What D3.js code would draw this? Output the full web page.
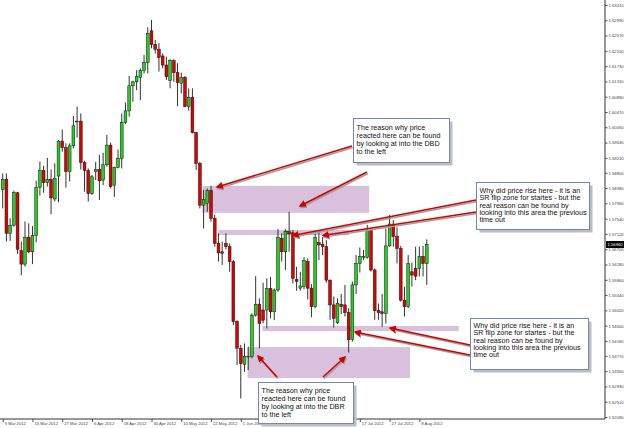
<!DOCTYPE html>
<html>
<head>
<meta charset="utf-8">
<script src="https://cdn.jsdelivr.net/npm/d3@7"></script>
<style>
body{margin:0;background:#fff}
svg{display:block}
</style>
</head>
<body>
<svg id="chart" width="625" height="428"></svg>
<script>
// daily candles, 5 Mar 2012 .. 13 Aug 2012
var open = [1.5834,1.5862,1.5714,1.5736,1.5825,1.5666,1.5629,1.5703,1.5663,1.5707,
 1.5840,1.5886,1.5853,1.5862,1.5808,1.5871,1.5967,1.5949,1.5883,1.5954,
 1.6020,1.6022,1.5908,1.5886,1.5823,1.5883,1.5889,1.5860,1.5902,1.5956,
 1.5846,1.5895,1.5920,1.6019,1.6050,1.6119,1.6130,1.6142,1.6161,1.6183,
 1.6270,1.6233,1.6219,1.6201,1.6176,1.6133,1.6188,1.6155,1.6126,1.6142,
 1.6062,1.6087,1.5990,1.5906,1.5791,1.5796,1.5831,1.5755,1.5686,1.5663,
 1.5686,1.5677,1.5636,1.5471,1.5398,1.5354,1.5375,1.5375,1.5489,1.5519,
 1.5503,1.5503,1.5562,1.5498,1.5558,1.5700,1.5663,1.5718,1.5715,1.5587,
 1.5563,1.5567,1.5636,1.5563,1.5512,1.5688,1.5684,1.5677,1.5585,1.5517,
 1.5468,1.5519,1.5517,1.5496,1.5422,1.5572,1.5631,1.5648,1.5648,1.5721,
 1.5613,1.5501,1.5498,1.5494,1.5679,1.5739,1.5705,1.5672,1.5530,1.5512,
 1.5608,1.5617,1.5617,1.5650,1.5631];
var high = [1.5878,1.5878,1.5755,1.5831,1.5828,1.5691,1.5746,1.5741,1.5734,1.5858,
 1.5911,1.5899,1.5921,1.5889,1.5906,1.5970,1.5999,1.5961,1.5961,1.6036,
 1.6062,1.6043,1.5913,1.5892,1.5874,1.5910,1.5929,1.5935,1.5984,1.5963,
 1.5897,1.5944,1.6043,1.6073,1.6146,1.6133,1.6162,1.6167,1.6204,1.6280,
 1.6300,1.6245,1.6236,1.6208,1.6199,1.6192,1.6192,1.6181,1.6155,1.6146,
 1.6112,1.6112,1.5993,1.5910,1.5833,1.5837,1.5844,1.5764,1.5714,1.5691,
 1.5714,1.5686,1.5640,1.5475,1.5407,1.5411,1.5402,1.5494,1.5596,1.5535,
 1.5578,1.5590,1.5594,1.5562,1.5725,1.5714,1.5725,1.5773,1.5723,1.5622,
 1.5608,1.5648,1.5645,1.5574,1.5712,1.5721,1.5703,1.5695,1.5587,1.5540,
 1.5535,1.5547,1.5572,1.5508,1.5581,1.5654,1.5675,1.5668,1.5737,1.5727,
 1.5617,1.5521,1.5547,1.5727,1.5764,1.5750,1.5730,1.5679,1.5567,1.5654,
 1.5633,1.5677,1.5677,1.5679,1.5697];
var low = [1.5782,1.5691,1.5693,1.5732,1.5657,1.5598,1.5622,1.5659,1.5629,1.5689,
 1.5817,1.5825,1.5842,1.5766,1.5801,1.5799,1.5938,1.5839,1.5856,1.5947,
 1.5977,1.5889,1.5828,1.5801,1.5819,1.5860,1.5805,1.5846,1.5897,1.5837,
 1.5814,1.5892,1.5892,1.6014,1.6034,1.6075,1.6107,1.6080,1.6153,1.6153,
 1.6222,1.6208,1.6158,1.6167,1.6135,1.6112,1.6130,1.6063,1.6098,1.6060,
 1.6051,1.5988,1.5888,1.5782,1.5727,1.5773,1.5746,1.5677,1.5636,1.5627,
 1.5670,1.5608,1.5462,1.5352,1.5260,1.5333,1.5338,1.5370,1.5485,1.5398,
 1.5466,1.5452,1.5480,1.5475,1.5553,1.5636,1.5613,1.5663,1.5576,1.5556,
 1.5556,1.5560,1.5532,1.5483,1.5508,1.5640,1.5654,1.5578,1.5476,1.5455,
 1.5465,1.5492,1.5485,1.5386,1.5416,1.5547,1.5606,1.5640,1.5644,1.5608,
 1.5476,1.5476,1.5457,1.5466,1.5677,1.5677,1.5631,1.5526,1.5485,1.5508,
 1.5567,1.5585,1.5595,1.5595,1.5572];
var close = [1.5862,1.5714,1.5736,1.5826,1.5670,1.5629,1.5703,1.5663,1.5707,1.5840,
 1.5886,1.5853,1.5862,1.5811,1.5865,1.5967,1.5949,1.5883,1.5954,1.6009,
 1.6022,1.5908,1.5886,1.5823,1.5869,1.5889,1.5858,1.5902,1.5956,1.5842,
 1.5895,1.5920,1.6019,1.6050,1.6119,1.6130,1.6144,1.6161,1.6183,1.6263,
 1.6233,1.6219,1.6197,1.6176,1.6144,1.6188,1.6155,1.6128,1.6142,1.6062,
 1.6087,1.5990,1.5906,1.5791,1.5807,1.5831,1.5755,1.5686,1.5660,1.5659,
 1.5677,1.5636,1.5471,1.5398,1.5356,1.5376,1.5376,1.5489,1.5519,1.5466,
 1.5475,1.5562,1.5498,1.5558,1.5703,1.5663,1.5718,1.5712,1.5590,1.5581,
 1.5569,1.5639,1.5563,1.5512,1.5702,1.5682,1.5677,1.5585,1.5517,1.5480,
 1.5521,1.5512,1.5496,1.5421,1.5572,1.5631,1.5650,1.5650,1.5721,1.5613,
 1.5501,1.5496,1.5494,1.5679,1.5739,1.5705,1.5672,1.5530,1.5512,1.5631,
 1.5599,1.5596,1.5650,1.5631,1.5683];

var dateLabels = ["5 Mar 2012","15 Mar 2012","27 Mar 2012","6 Apr 2012","18 Apr 2012",
 "30 Apr 2012","10 May 2012","22 May 2012","1 Jun 2012","13 Jun 2012","25 Jun 2012",
 "5 Jul 2012","17 Jul 2012","27 Jul 2012","8 Aug 2012"];
var dateIdx = [0,8,16,24,32,40,48,56,64,72,80,88,96,104,112];

var priceTicks = [1.63410,1.62990,1.62570,1.62150,1.61730,1.61310,1.60890,1.60470,1.60050,
 1.59630,1.59210,1.58800,1.58380,1.57960,1.57540,1.57120,1.56700,1.56280,1.55860,
 1.55440,1.55020,1.54600,1.54180,1.53770,1.53350,1.52930,1.52510,1.52090];

// supply / demand zones: candle index from..to, price top..bottom
var zoneFrom = [53.7, 58, 69.8, 65.8];
var zoneTo = [98.5, 93.1, 122.6, 109.5];
var zoneTop = [1.5844, 1.5723, 1.5459, 1.5401];
var zoneBottom = [1.5770, 1.5709, 1.5445, 1.5316];

var svg = d3.select("#chart");
var x = d3.scaleLinear().domain([0,114]).range([2.7, 2.7+114*3.72]);
var y = d3.scaleLinear().domain([1.52090,1.63410]).range([417,5]);

var axisX = 605, axisY = 419;
var axisFont = "Arial, 'Liberation Sans', sans-serif";

// zones
var zones = svg.append("g");
for(var z=0; z<zoneFrom.length; z++){
	zones.append("rect")
		.attr("x", x(zoneFrom[z]))
		.attr("y", y(zoneTop[z]))
		.attr("width", x(zoneTo[z]) - x(zoneFrom[z]))
		.attr("height", y(zoneBottom[z]) - y(zoneTop[z]))
		.attr("fill", "#d9c0dc");
}

// candles
var candles = svg.append("g");
var idx = d3.range(open.length);
candles.selectAll("line.wick").data(idx).enter().append("line")
	.attr("class","wick")
	.attr("x1", function(i){ return x(i); })
	.attr("x2", function(i){ return x(i); })
	.attr("y1", function(i){ return y(high[i]); })
	.attr("y2", function(i){ return y(low[i]); })
	.attr("stroke", "#333")
	.attr("stroke-width", 1);
candles.selectAll("rect.body").data(idx).enter().append("rect")
	.attr("class","body")
	.attr("x", function(i){ return x(i) - 1.4; })
	.attr("width", 2.8)
	.attr("y", function(i){ return y(Math.max(open[i],close[i])); })
	.attr("height", function(i){ return Math.max(0.8, Math.abs(y(open[i]) - y(close[i]))); })
	.attr("fill", function(i){ return close[i] >= open[i] ? "#1ed21e" : "#e00000"; })
	.attr("stroke", "#111")
	.attr("stroke-width", 0.5);

// axes
var yAxis = d3.axisRight(y).tickValues(priceTicks).tickSize(2.5).tickPadding(1)
	.tickFormat(d3.format(".5f"));
var gy = svg.append("g").attr("transform","translate("+axisX+",0)").call(yAxis);
gy.select(".domain").remove();
gy.selectAll("text").attr("font-size","4.2px").attr("font-family",axisFont).attr("fill","#444");
gy.selectAll("line").attr("stroke","#555");

var xAxis = d3.axisBottom(x).tickValues(dateIdx).tickSize(3)
	.tickFormat(function(d,i){ return dateLabels[i]; });
var gx = svg.append("g").attr("transform","translate(0,"+axisY+")").call(xAxis);
gx.select(".domain").remove();
gx.selectAll("text").attr("text-anchor","start").attr("x",1.5).attr("y",3.5).attr("dy","0.71em")
	.attr("font-size","4.2px").attr("font-family",axisFont).attr("fill","#444");
gx.selectAll("line").attr("stroke","#555");

svg.append("line").attr("x1",axisX).attr("x2",axisX).attr("y1",0).attr("y2",axisY).attr("stroke","#333");
svg.append("line").attr("x1",0).attr("x2",axisX).attr("y1",axisY).attr("y2",axisY).attr("stroke","#333");

// current price tag
var last = close[close.length-1];
svg.append("rect").attr("x",axisX+1).attr("y",y(last)-3.5).attr("width",18).attr("height",7).attr("fill","#000");
svg.append("text").attr("x",axisX+2.5).attr("y",y(last)+1.5).text("1.56960")
	.attr("font-size","4.2px").attr("font-family",axisFont).attr("fill","#fff");

// arrows
var defs = svg.append("defs");
defs.append("marker").attr("id","head").attr("viewBox","0 0 10 10").attr("refX",2).attr("refY",5)
	.attr("markerWidth",4.5).attr("markerHeight",4.5).attr("orient","auto")
	.append("path").attr("d","M10,0 L0,5 L10,10 z").attr("fill","#d00000");
defs.append("marker").attr("id","headShadow").attr("viewBox","0 0 10 10").attr("refX",2).attr("refY",5)
	.attr("markerWidth",4.5).attr("markerHeight",4.5).attr("orient","auto")
	.append("path").attr("d","M10,0 L0,5 L10,10 z").attr("fill","#9a9a9a");

var arrows = [
	[352,146, 217,187],
	[367,172, 300,206],
	[476,200, 293,235.5],
	[476,212, 323,235.5],
	[470,345, 390,328],
	[470,355, 355,332],
	[277,377, 258,356],
	[323,377, 345,357]
];
var ga = svg.append("g");
arrows.forEach(function(a){
	ga.append("line").attr("x1",a[2]+1).attr("y1",a[3]+1.5).attr("x2",a[0]+1).attr("y2",a[1]+1.5)
		.attr("stroke","#a0a0a0").attr("stroke-width",1.6).attr("marker-start","url(#headShadow)");
});
arrows.forEach(function(a){
	ga.append("line").attr("x1",a[2]).attr("y1",a[3]).attr("x2",a[0]).attr("y2",a[1])
		.attr("stroke","#d00000").attr("stroke-width",1.6).attr("marker-start","url(#head)");
});

// callout boxes
function callout(bx,by,bw,bh,lines,lh,top){
	var g = svg.append("g");
	g.append("rect").attr("x",bx+3).attr("y",by+3).attr("width",bw).attr("height",bh).attr("fill","#bdbdbd");
	g.append("rect").attr("x",bx).attr("y",by).attr("width",bw).attr("height",bh)
		.attr("fill","#fff").attr("stroke","#7088ad").attr("stroke-width",1);
	g.selectAll("text").data(lines).enter().append("text")
		.attr("x",bx+3).attr("y",function(d,i){ return by+top+i*lh; })
		.attr("font-family","Arial, 'Liberation Sans', sans-serif").attr("font-size","7.2px")
		.attr("fill","#111").text(function(d){ return d; });
}
callout(353.5,118.5,96,44,["The reason why price","reacted here can be found","by looking at into the DBD","to the left"],8.1,11);
callout(476.5,182.5,113,47,["Why did price rise here - it is an","SR flip zone for startes - but the","real reason can be found by","looking into this area the previous","time out"],7.3,10.5);
callout(470.5,318.5,118,51,["Why did price rise here - it is an","SR flip zone for startes - but the","real reason can be found by","looking into this area the previous","time out"],7.3,9.5);
callout(258.5,382.5,95,41,["The reason why price","reacted here can be found","by looking at into the DBR","to the left"],8.3,10);
</script>
</body>
</html>
